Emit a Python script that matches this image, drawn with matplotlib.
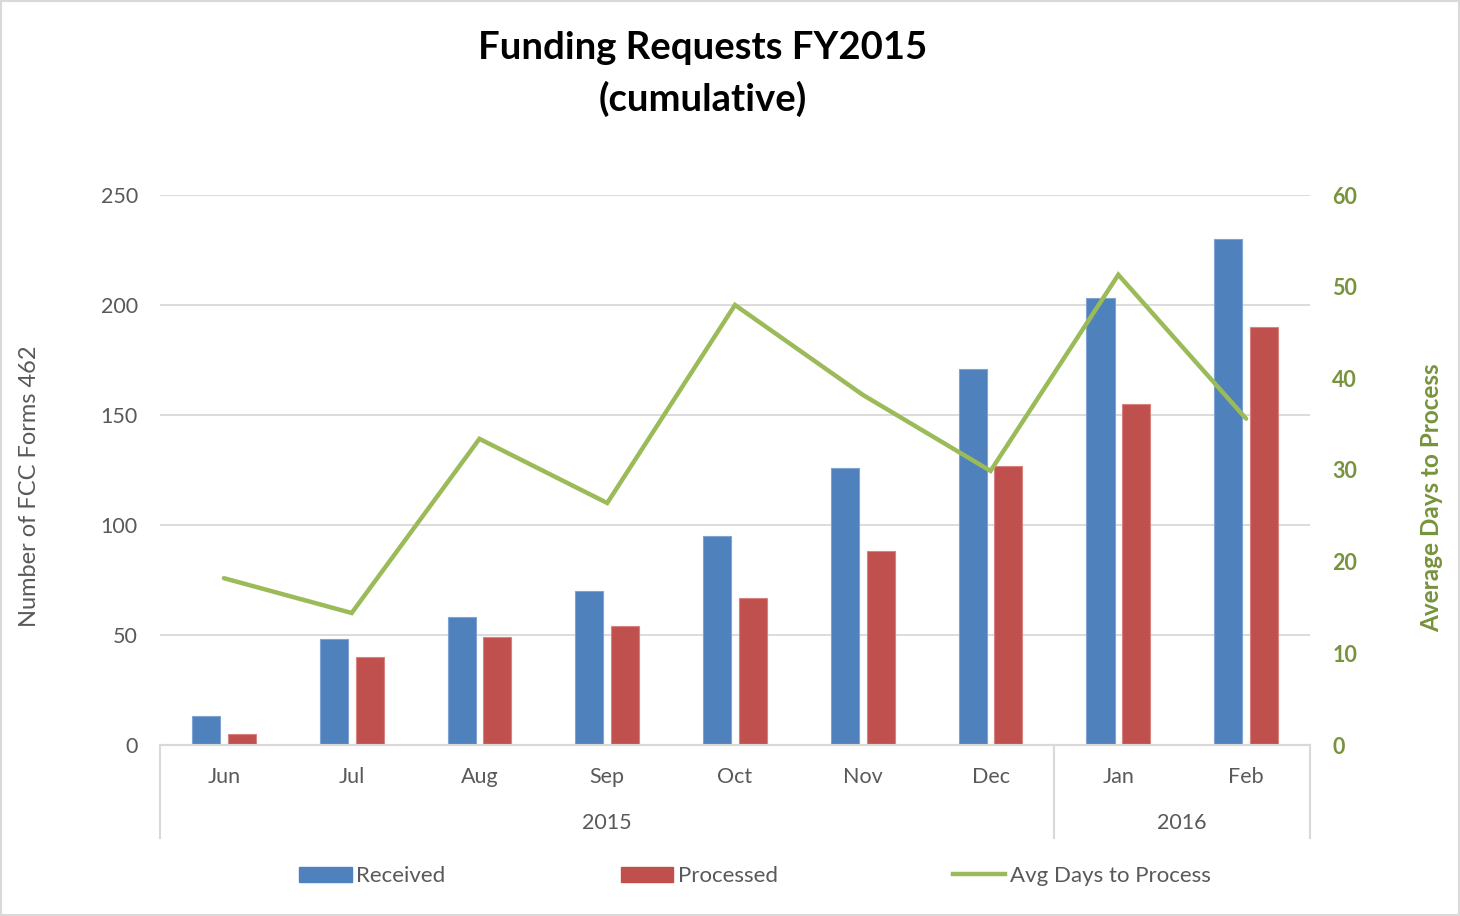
import numpy as np
import matplotlib
matplotlib.use("Agg")
import matplotlib.pyplot as plt
from matplotlib.patches import Rectangle

plt.rcParams["font.family"] = ["Lato", "DejaVu Sans"]

months = ["Jun", "Jul", "Aug", "Sep", "Oct", "Nov", "Dec", "Jan", "Feb"]
years = ["2015", "2016"]
year_spans = [(0, 6), (7, 8)]  # first/last month index per year
received = [13, 48, 58, 70, 95, 126, 171, 203, 230]
processed = [5, 40, 49, 54, 67, 88, 127, 155, 190]
avg_days = [18.2, 14.4, 33.4, 26.4, 48.0, 38.2, 29.9, 51.3, 35.6]

BLUE = "#4F81BD"
RED = "#C0504D"
GREEN = "#9BBB59"
DKGREEN = "#77933C"
GREY_TXT = "#595959"
GRID = "#D9D9D9"

fig = plt.figure(figsize=(14.6, 9.16), dpi=100)
ax = fig.add_axes([160 / 1460, 171 / 916, 1150 / 1460, 550 / 916])
ax2 = ax.twinx()

x = np.arange(len(months))
w = 0.22
ax.bar(x - 0.14, received, w, color=BLUE, edgecolor="#7FA3D3", linewidth=0.8, zorder=2)
ax.bar(x + 0.14, processed, w, color=RED, edgecolor="#D98381", linewidth=0.8, zorder=2)
ax2.plot(x, avg_days, color=GREEN, linewidth=3.2, solid_capstyle="round",
         solid_joinstyle="miter", zorder=3)

ax.set_xlim(-0.5, len(months) - 0.5)
ax.set_ylim(0, 250)
ax.set_yticks(range(0, 251, 50))
ax2.set_ylim(0, 60)
ax2.set_yticks(range(0, 61, 10))

ax.grid(axis="y", color=GRID, linewidth=1.3, zorder=0)
ax.set_axisbelow(True)
for a in (ax, ax2):
    for s in ("top", "left", "right"):
        a.spines[s].set_visible(False)
    a.spines["bottom"].set_color(GRID)
    a.spines["bottom"].set_linewidth(1.5)

ax.tick_params(axis="y", length=0, labelsize=15.5, labelcolor=GREY_TXT, pad=16)
ax2.tick_params(axis="y", length=0, labelsize=15.5, labelcolor=DKGREEN, pad=16)
for lbl in ax2.get_yticklabels():
    lbl.set_fontweight("bold")

ax.set_xticks(x)
ax.set_xticklabels(months)
ax.tick_params(axis="x", length=0, labelsize=15.5, labelcolor=GREY_TXT, pad=16)

# year level of the category axis
tr = ax.get_xaxis_transform()
sep_y = -93 / 550
for (i0, i1), yr in zip(year_spans, years):
    ax.text((i0 + i1) / 2, -78 / 550, yr, transform=tr, ha="center", va="center",
            fontsize=15.5, color=GREY_TXT)
for xs in (-0.5, 6.5, len(months) - 0.5):
    ax.plot([xs, xs], [0, sep_y], transform=tr, color=GRID, linewidth=1.5, clip_on=False)

ax.set_ylabel("Number of FCC Forms 462", fontsize=17, color=GREY_TXT)
ax.yaxis.set_label_coords(-120 / 1150, 0.471)
ax2.set_ylabel("Average Days to Process", fontsize=17.5, color=DKGREEN, fontweight="bold")
ax2.yaxis.set_label_coords(1 + 110 / 1150, 0.449)

fig.text(703 / 1460, 1 - 74 / 916, "Funding Requests FY2015\n(cumulative)", ha="center",
         va="center", fontsize=27.5, fontweight="bold", color="black", linespacing=1.5)

handles = [Rectangle((0, 0), 1, 1, color=BLUE), Rectangle((0, 0), 1, 1, color=RED),
           plt.Line2D([0], [0], color=GREEN, linewidth=3.2)]
leg = fig.legend(handles, ["Received", "Processed", "Avg Days to Process"], ncol=3,
                 loc="center", bbox_to_anchor=(755 / 1460, 1 - 876 / 916), frameon=False,
                 fontsize=16, handlelength=2.35, handleheight=0.65, handletextpad=0.2,
                 columnspacing=7.9)
for t in leg.get_texts():
    t.set_color(GREY_TXT)

fig.patches.append(Rectangle((0.001, 0.001), 0.998, 0.998, transform=fig.transFigure,
                             fill=False, edgecolor=GRID, linewidth=1.5))

fig.savefig("out.png", dpi=100)
